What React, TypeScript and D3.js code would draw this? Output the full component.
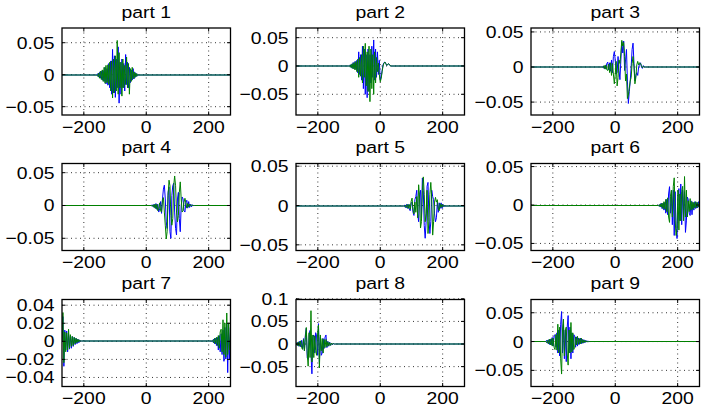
import React from "react";
import * as d3 from "d3";

const WIDTH = 701;
const HEIGHT = 407;

const titles = ["part 1", "part 2", "part 3", "part 4", "part 5", "part 6", "part 7", "part 8", "part 9"];
const xDomain: [number, number] = [-270, 270];
const xTicks = [-200, 0, 200];
const yDomains: [number, number][] = [
  [-0.063, 0.073],
  [-0.0866, 0.0671],
  [-0.0684, 0.0556],
  [-0.0686, 0.064],
  [-0.0572, 0.0534],
  [-0.0592, 0.054],
  [-0.05, 0.0463],
  [-0.094, 0.0985],
  [-0.078, 0.073],
];
const yTicks: number[][] = [
  [-0.05, 0, 0.05],
  [-0.05, 0, 0.05],
  [-0.05, 0, 0.05],
  [-0.05, 0, 0.05],
  [-0.05, 0, 0.05],
  [-0.05, 0, 0.05],
  [-0.04, -0.02, 0, 0.02, 0.04],
  [-0.05, 0, 0.05, 0.1],
  [-0.05, 0, 0.05],
];

// Each burst: first x, sample step 3
type Burst = { start: number; values: number[] };
const STEP = 3;

const p1Blue: Burst[] = [{ start: -156, values: [0.002, -0.003, 0.004, -0.005, 0.006, -0.008, 0.007, -0.01, 0.012, -0.014, 0.01, -0.016, 0.018, -0.02, 0.022, -0.03, 0.04, -0.028, 0.03, -0.035, 0.025, -0.02, 0.044, -0.044, 0.02, -0.03, 0.025, -0.02, 0.018, -0.025, 0.032, -0.015, 0.02, -0.02, 0.012, -0.012, 0.008, -0.008, 0.01, -0.006, 0.004, -0.003, 0.002, -0.001] }];
const p1Green: Burst[] = [{ start: -156, values: [-0.002, 0.003, -0.005, 0.006, -0.007, 0.008, -0.01, 0.012, -0.013, 0.015, -0.012, 0.016, -0.015, 0.02, -0.025, 0.022, -0.036, 0.025, -0.028, 0.03, -0.025, 0.054, -0.03, 0.035, -0.02, 0.02, -0.033, 0.025, -0.02, 0.015, -0.015, 0.028, -0.02, 0.018, -0.03, 0.01, -0.01, 0.012, -0.006, 0.005, -0.004, 0.003, -0.002, 0.001] }];

const p2Blue: Burst[] = [{ start: -99, values: [0.001, -0.002, 0.003, -0.004, 0.006, -0.005, 0.008, -0.006, 0.01, -0.012, 0.025, -0.015, 0.02, -0.025, 0.035, -0.04, 0.03, -0.05, 0.02, -0.056, 0.03, -0.045, 0.02, -0.03, 0.035, -0.02, 0.046, -0.025, 0.03, -0.02, 0.025, -0.015, 0.01, -0.025, -0.02, -0.008, 0.002, 0.006, 0.007, 0.004, 0.001, 0.003, 0.004, 0.002, 0] }];
const p2Green: Burst[] = [{ start: -99, values: [-0.001, 0.002, -0.003, 0.004, -0.005, 0.006, -0.007, 0.008, -0.01, 0.012, -0.02, 0.015, -0.018, 0.02, -0.03, 0.035, -0.02, 0.04, -0.035, 0.025, -0.045, 0.035, -0.063, 0.03, -0.04, 0.02, -0.05, 0.025, -0.03, 0.015, -0.01, 0.005, -0.015, -0.028, -0.022, -0.01, 0, 0.005, 0.007, 0.004, 0.001, 0.003, 0.004, 0.002, 0] }];

const p3Blue: Burst[] = [{ start: -39, values: [0.001, -0.002, 0.002, -0.003, 0.005, 0.007, -0.004, 0.006, -0.006, 0.01, -0.008, 0.015, 0.022, 0.01, -0.01, -0.008, 0.015, -0.005, -0.018, 0.01, 0.036, 0.02, 0.037, -0.005, 0.01, 0.025, -0.02, -0.052, -0.035, -0.02, 0, 0.025, 0.034, 0.005, -0.02, -0.012, -0.008, -0.012, 0, 0.004, 0.006, 0, -0.002, 0.002, 0] }];
const p3Green: Burst[] = [{ start: -39, values: [-0.001, 0.002, -0.003, 0.003, -0.004, -0.005, 0.004, -0.008, 0.006, -0.012, 0.005, -0.01, -0.024, -0.01, 0.008, -0.027, -0.015, 0.01, 0.005, 0.02, 0.038, 0.03, 0.035, 0.015, -0.02, -0.01, -0.045, -0.04, -0.03, -0.02, -0.015, 0.005, 0.015, 0, -0.024, -0.015, 0.003, 0.008, 0.003, 0.006, 0.005, 0.002, -0.001, 0.001, 0] }];

const p4Blue: Burst[] = [{ start: 19, values: [0.001, -0.002, 0.002, -0.004, 0.003, -0.006, 0.002, -0.01, -0.005, 0.006, -0.012, 0.01, 0.025, 0.031, 0.01, -0.025, -0.035, 0.02, 0.028, -0.04, -0.05, 0.015, 0.03, 0.034, -0.01, -0.035, -0.045, 0.01, 0.02, -0.02, -0.04, 0, 0.013, 0.01, -0.008, -0.01, 0.005, 0.008, -0.004, 0.006, -0.003, 0.002, -0.002, 0.001, 0] }];
const p4Green: Burst[] = [{ start: 19, values: [-0.001, 0.001, -0.003, 0.002, -0.005, 0.002, -0.008, -0.006, 0.004, -0.008, -0.01, 0.008, 0.012, -0.01, -0.03, -0.051, -0.04, 0.015, 0.0386, 0.03, -0.015, -0.03, -0.02, 0.03, 0.045, 0.03, -0.01, -0.025, -0.015, 0.02, 0.036, 0.01, -0.01, -0.008, 0.005, 0.011, 0.004, -0.004, 0.003, -0.002, 0.002, -0.001, 0.001, 0, 0] }];

const p5Blue: Burst[] = [{ start: 78, values: [0.001, -0.002, 0.002, -0.003, 0.002, -0.004, -0.006, 0.003, 0.005, -0.008, -0.012, 0.008, 0.012, 0.02, -0.01, -0.02, 0.015, 0.02, -0.015, 0.0356, 0.02, -0.025, -0.041, -0.02, 0.025, 0.03, -0.015, -0.035, -0.02, 0.02, 0.012, 0.008, -0.01, -0.02, -0.015, 0.005, -0.008, 0.004, -0.003, 0.004, -0.003, 0.002, -0.001] }];
const p5Green: Burst[] = [{ start: 78, values: [-0.001, 0.001, -0.002, 0.002, -0.003, 0.002, -0.004, 0.006, 0.01, -0.005, -0.01, 0.005, -0.008, 0.012, -0.015, 0.027, 0.01, -0.028, -0.02, 0.02, 0.037, 0.015, -0.02, -0.01, 0.02, -0.035, -0.02, 0.015, 0.03, 0.01, -0.037, -0.02, 0.005, 0.011, 0.005, 0.008, -0.004, -0.006, 0.003, -0.002, 0.002, -0.001, 0.001] }];

const p6Blue: Burst[] = [{ start: 141, values: [0.001, -0.002, 0.003, -0.004, 0.003, -0.006, 0.004, -0.01, 0.008, -0.012, 0.015, 0.0245, -0.01, 0.015, -0.025, 0.02, -0.039, 0.018, -0.03, -0.043, 0.01, 0.022, -0.02, 0.028, -0.025, 0.02, -0.015, 0.018, -0.035, -0.02, 0.011, 0.008, -0.01, -0.013, 0.006, -0.012, 0.004, -0.006, 0.005, -0.004, 0.004, -0.003, 0.005, -0.002] }];
const p6Green: Burst[] = [{ start: 141, values: [-0.001, 0.002, -0.002, 0.003, -0.004, 0.005, -0.005, 0.008, -0.008, 0.01, -0.015, -0.022, 0.012, 0.02, -0.015, 0.025, 0.036, -0.02, -0.039, -0.03, 0.02, -0.032, 0.015, -0.02, 0.018, 0.025, -0.02, 0.0377, -0.015, 0.02, -0.015, 0.006, -0.008, 0.009, -0.006, 0.005, -0.005, 0.004, -0.003, 0.005, -0.003, 0.004, -0.002, 0.002] }];

const p7Blue: Burst[] = [
  { start: -270, values: [0, 0.027, -0.028, 0.012, -0.01, 0.011, -0.012, 0.008, -0.009, 0.006, -0.008, 0.005, -0.006, 0.004, -0.004, 0.003, -0.003, 0.002, -0.002, 0.001, 0] },
  { start: 210, values: [0, -0.001, 0.002, -0.003, 0.003, -0.005, 0.004, -0.01, 0.006, -0.012, 0.008, -0.015, 0.012, -0.0225, 0.015, -0.02, 0.02, -0.035, 0.015, -0.02, 0.01] },
];
const p7Green: Burst[] = [
  { start: -270, values: [0, 0.0315, -0.024, 0.01, -0.012, 0.009, -0.01, 0.013, -0.008, 0.007, -0.006, 0.005, -0.005, 0.004, -0.003, 0.003, -0.002, 0.002, -0.001, 0.001, 0] },
  { start: 210, values: [0, 0.001, -0.002, 0.003, -0.003, 0.004, -0.005, 0.006, -0.008, 0.01, 0.013, -0.012, 0.0235, -0.015, 0.02, -0.018, 0.031, -0.015, 0.02, -0.01, 0.005] },
];

const p8Blue: Burst[] = [{ start: -270, values: [0.002, -0.003, 0.004, -0.005, 0.006, -0.006, 0.008, -0.01, 0.012, -0.015, 0.02, 0.035, -0.03, -0.034, 0.02, 0.03, -0.02, -0.066, 0.015, 0.02, -0.02, 0.025, 0.018, -0.025, 0.045, -0.04, 0.015, -0.025, -0.02, 0.012, -0.01, 0.015, 0.02, -0.008, 0.006, -0.005, 0.004, -0.003, 0.002, -0.002, 0.001, 0] }];
const p8Green: Burst[] = [{ start: -270, values: [-0.002, 0.003, -0.004, 0.005, -0.005, 0.007, -0.008, -0.012, 0.01, -0.015, 0.015, 0.0365, -0.02, -0.049, 0.025, -0.03, 0.0737, -0.04, 0.02, -0.03, 0.018, -0.015, -0.025, 0.02, 0.042, -0.053, 0.02, -0.015, 0.012, -0.02, 0.01, -0.008, 0.01, -0.006, 0.005, -0.004, 0.003, -0.003, 0.002, -0.001, 0.001, 0] }];

const p9Blue: Burst[] = [{ start: -220, values: [0.002, -0.003, 0.003, -0.005, 0.004, -0.006, 0.007, -0.008, 0.01, 0.012, -0.01, 0.015, -0.02, 0.02, -0.025, 0.03, 0.052, -0.02, 0.03, -0.03, 0.02, -0.035, 0.025, 0.045, -0.02, 0.025, -0.03, 0.015, -0.02, 0.012, 0.01, -0.01, 0.008, -0.008, 0.006, -0.005, 0.006, -0.004, 0.004, -0.003, 0.003, -0.002, 0.002, -0.001, 0.001, 0] }];
const p9Green: Burst[] = [{ start: -220, values: [-0.002, 0.002, -0.004, 0.004, -0.006, 0.005, -0.008, 0.006, -0.01, -0.014, 0.012, -0.015, 0.03, -0.02, 0.025, -0.03, -0.0565, 0.02, 0.039, -0.025, 0.02, 0.025, -0.02, -0.041, 0.02, -0.02, 0.033, -0.018, 0.015, -0.014, -0.01, 0.008, -0.006, 0.009, -0.005, 0.005, -0.004, 0.006, -0.003, 0.003, -0.002, 0.002, -0.001, 0.001, -0.001, 0] }];

const blueSeries = [p1Blue, p2Blue, p3Blue, p4Blue, p5Blue, p6Blue, p7Blue, p8Blue, p9Blue];
const greenSeries = [p1Green, p2Green, p3Green, p4Green, p5Green, p6Green, p7Green, p8Green, p9Green];

// rendering style: whether the flat zero line falls between pixel rows (blended teal look)
const zeroOnEdge = [true, true, true, false, true, false, true, true, false];

const colLefts = [62, 296, 531];
const rowTops = [28, 163.5, 299.5];
const PW = 168.5;
const PH = 87;
const FONT = "'Liberation Sans', Arial, Helvetica, sans-serif";
const FS = 17;
const SX = 1.14;

function toPoints(bursts: Burst[]): [number, number][] {
  const pts: [number, number][] = [];
  pts.push([xDomain[0], 0]);
  bursts.forEach((b) => {
    if (b.start - STEP > xDomain[0]) pts.push([b.start - STEP, 0]);
    b.values.forEach((v, i) => pts.push([b.start + i * STEP, v]));
    const end = b.start + (b.values.length - 1) * STEP;
    if (end + STEP < xDomain[1]) pts.push([end + STEP, 0]);
  });
  pts.push([xDomain[1], 0]);
  pts.sort((a, b) => a[0] - b[0]);
  const out: [number, number][] = [];
  pts.forEach((p) => {
    if (out.length && out[out.length - 1][0] === p[0]) {
      if (p[1] !== 0) out[out.length - 1] = p;
    } else out.push(p);
  });
  return out;
}

function fmt(v: number): string {
  if (v === 0) return "0";
  const s = String(+v.toFixed(3));
  return s.replace("-", "\u2212");
}

function Label({ x, y, anchor, children }: { x: number; y: number; anchor: string; children: React.ReactNode }) {
  return (
    <text transform={`translate(${x},${y}) scale(${SX},1)`} textAnchor={anchor} fontFamily={FONT} fontSize={FS} fill="#000">
      {children}
    </text>
  );
}

function Panel({ idx }: { idx: number }) {
  const left = colLefts[idx % 3];
  const top = rowTops[Math.floor(idx / 3)];
  const x = d3.scaleLinear().domain(xDomain).range([left, left + PW]);
  const y = d3.scaleLinear().domain(yDomains[idx]).range([top + PH, top]);
  const y0 = y(0);
  const target = zeroOnEdge[idx] ? Math.round(y0) : Math.floor(y0) + 0.5;
  const dy = target - y0;
  const line = d3
    .line<[number, number]>()
    .x((d) => x(d[0]))
    .y((d) => y(d[1]) + dy);
  const clipId = `clip${idx}`;
  const tickLen = 3.5;
  return (
    <g>
      <defs>
        <clipPath id={clipId}>
          <rect x={left} y={top} width={PW} height={PH} />
        </clipPath>
      </defs>
      <rect x={left} y={top} width={PW} height={PH} fill="#fff" />
      {xTicks.map((t) => (
        <line key={"gx" + t} x1={x(t)} x2={x(t)} y1={top} y2={top + PH} stroke="#000" strokeWidth={0.8} strokeDasharray="1,3.5" />
      ))}
      {yTicks[idx].map((t) => (
        <line key={"gy" + t} x1={left} x2={left + PW} y1={y(t)} y2={y(t)} stroke="#000" strokeWidth={0.8} strokeDasharray="1,3.5" />
      ))}
      <g clipPath={`url(#${clipId})`}>
        <path d={line(toPoints(blueSeries[idx])) || ""} fill="none" stroke="#0000ff" strokeWidth={1} />
        <path d={line(toPoints(greenSeries[idx])) || ""} fill="none" stroke="#008000" strokeWidth={1} />
      </g>
      {xTicks.map((t) => (
        <g key={"tx" + t}>
          <line x1={x(t)} x2={x(t)} y1={top + PH} y2={top + PH - tickLen} stroke="#000" />
          <line x1={x(t)} x2={x(t)} y1={top} y2={top + tickLen} stroke="#000" />
          <Label x={x(t)} y={top + PH + 17.5} anchor="middle">
            {fmt(t)}
          </Label>
        </g>
      ))}
      {yTicks[idx].map((t) => (
        <g key={"ty" + t}>
          <line x1={left} x2={left + tickLen} y1={y(t)} y2={y(t)} stroke="#000" />
          <line x1={left + PW} x2={left + PW - tickLen} y1={y(t)} y2={y(t)} stroke="#000" />
          <Label x={left - 7.5} y={y(t) + 6} anchor="end">
            {fmt(t)}
          </Label>
        </g>
      ))}
      <rect x={left} y={top} width={PW} height={PH} fill="none" stroke="#000" strokeWidth={1.3} />
      <Label x={left + PW / 2} y={top - 10.5} anchor="middle">
        {titles[idx]}
      </Label>
    </g>
  );
}

export default function App() {
  return (
    <svg width={WIDTH} height={HEIGHT} style={{ display: "block", position: "absolute", left: 0, top: 0 }}>
      <rect width={WIDTH} height={HEIGHT} fill="#fff" />
      {titles.map((_, i) => (
        <Panel key={i} idx={i} />
      ))}
    </svg>
  );
}
